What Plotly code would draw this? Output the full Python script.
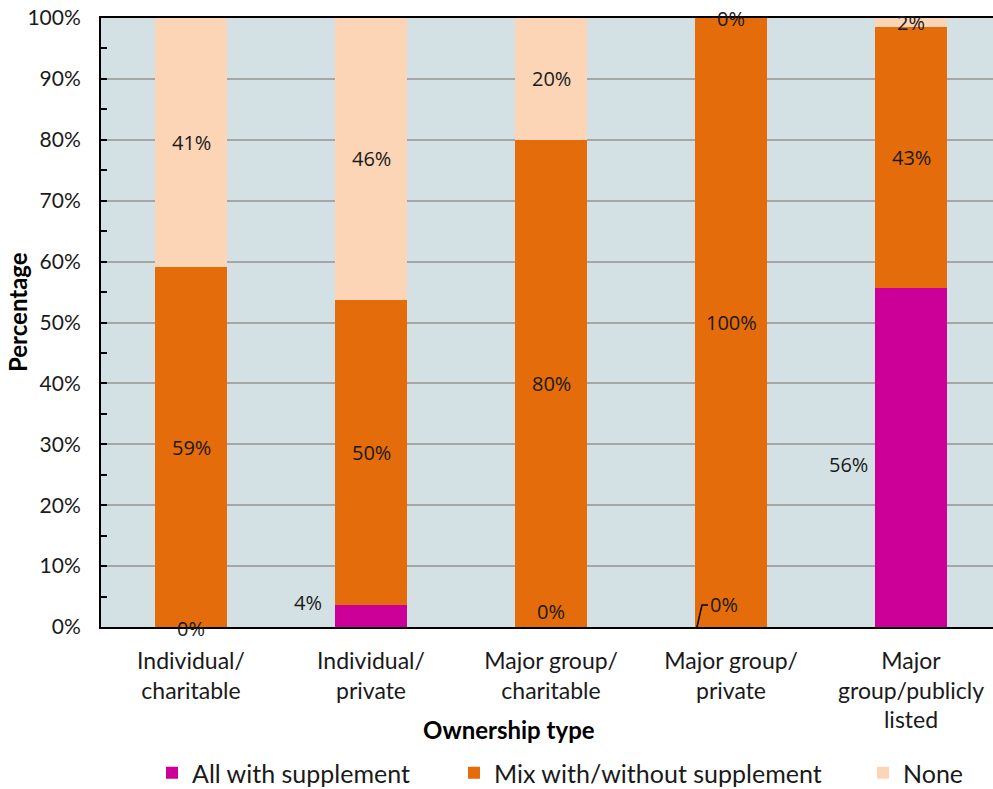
import plotly.graph_objects as go

categories = ["Individual/<br>charitable", "Individual/<br>private", "Major group/<br>charitable",
              "Major group/<br>private", "Major<br>group/publicly<br>listed"]
series_names = ["All with supplement", "Mix with/without supplement", "None"]
all_with = [0.0, 3.6, 0.0, 0.0, 55.6]
mix = [59.1, 50.1, 80.0, 100.0, 42.9]
none = [40.9, 46.3, 20.0, 0.0, 1.5]
y_ticks = [0, 10, 20, 30, 40, 50, 60, 70, 80, 90, 100]

colors = ["#cc0099", "#e46c0a", "#fbd5b5"]
series = [all_with, mix, none]
xs = list(range(len(categories)))

W, H = 993, 789
L, T, B = 101, 18, 162
PW, PH = W - L, H - T - B


def px(x):
    return (x - L) / PW


def py(y):
    return (H - B - y) / PH


legend_ids = ["legend", "legend2", "legend3"]
legend_text_x = [194, 496, 905]

fig = go.Figure()
for name, vals, col, lid in zip(series_names, series, colors, legend_ids):
    fig.add_trace(go.Bar(x=xs, y=vals, name=name, marker=dict(color=col, line=dict(width=0)),
                         width=0.4, legend=lid))

# label offsets (px) for specific labels, keyed by (series index, category index)
offsets = {(0, 0): (0, -1), (0, 1): (-63, 14), (0, 2): (0, 16), (0, 3): (-7, 23), (0, 4): (-63, -7)}

annotations = []
for i in xs:
    base = 0.0
    for s, vals in enumerate(series):
        v = vals[i]
        mid = base + v / 2
        dx, dy = offsets.get((s, i), (0, 0))
        annotations.append(dict(x=i, y=mid, xref="x", yref="y", text=f"{round(v)}%", showarrow=False,
                                xshift=dx, yshift=dy,
                                font=dict(family="Open Sans", size=20, color="#1a1a1a")))
        base += v

# axis titles
annotations.append(dict(x=px(509), y=py(729), xref="paper", yref="paper",
                        text="<b>Ownership type</b>", showarrow=False, xanchor="center", yanchor="middle",
                        font=dict(family="Lato", size=24, color="#000000")))
annotations.append(dict(x=px(17), y=py(312), xref="paper", yref="paper",
                        text="<b>Percentage</b>", showarrow=False, textangle=-90, xanchor="center",
                        yanchor="middle", font=dict(family="Lato", size=24, color="#000000")))

legend_style = dict(orientation="h", xanchor="left", yanchor="middle", y=py(773),
                    font=dict(family="Lato", size=25, color="#1a1a1a"), bgcolor="rgba(0,0,0,0)")

fig.update_layout(
    width=W, height=H,
    margin=dict(l=L, r=0, t=T, b=B, autoexpand=False),
    paper_bgcolor="white", plot_bgcolor="#d3e1e5",
    barmode="stack", bargap=0.6,
    showlegend=True,
    legend=dict(x=px(legend_text_x[0] - 42), **legend_style),
    legend2=dict(x=px(legend_text_x[1] - 42), **legend_style),
    legend3=dict(x=px(legend_text_x[2] - 42), **legend_style),
    annotations=annotations,
    font=dict(family="Lato", size=20, color="#1a1a1a"),
)
fig.update_xaxes(range=[-0.5, 4.5 - 8 / 180], tickvals=xs, ticktext=categories, showline=True,
                 linecolor="black", linewidth=2, mirror=True, ticks="", showgrid=False,
                 ticklabelstandoff=12, automargin=False,
                 tickfont=dict(family="Lato", size=23, color="#1a1a1a"))
fig.update_yaxes(range=[0, 100], tickvals=y_ticks, ticktext=[f"{t}%" for t in y_ticks],
                 showline=True, linecolor="black", linewidth=2, mirror=False,
                 ticks="inside", ticklen=6, tickcolor="black", tickwidth=1.5,
                 showgrid=True, gridcolor="#a6a6a6", gridwidth=1.5, zeroline=False,
                 ticklabelstandoff=14, automargin=False,
                 minor=dict(dtick=5, ticks="inside", ticklen=6, tickcolor="black", tickwidth=1.5, showgrid=False),
                 tickfont=dict(family="Lato", size=21, color="#1a1a1a"))

# leader line for the zero label of Major group/private
lx0 = 3 - 34 / 180
lx1 = 3 - 29 / 180
lx2 = 3 - 23 / 180
ly = 22 / PH * 100
fig.add_shape(type="path", xref="x", yref="y",
              path=f"M {lx0} 0 L {lx1} {ly} L {lx2} {ly}", line=dict(color="black", width=1.5))

fig.write_html("out.html")
